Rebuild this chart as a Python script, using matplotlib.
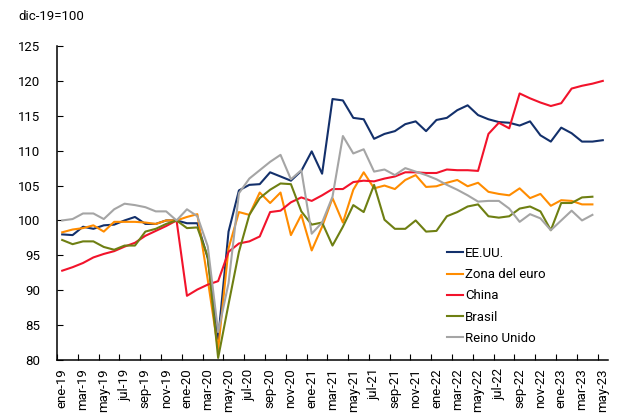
import numpy as np
import matplotlib
matplotlib.use("Agg")
import matplotlib.pyplot as plt

plt.rcParams['font.family'] = ['Roboto', 'DejaVu Sans']

nan = np.nan

meses = ['ene', 'feb', 'mar', 'abr', 'may', 'jun', 'jul', 'ago', 'sep', 'oct', 'nov', 'dic']
fechas = [m + '-' + str(a) for a in range(19, 24) for m in meses][:53]

eeuu = [98.0, 97.9, 99.1, 98.8, 99.3, 99.4, 100.0, 100.5, 99.5, 99.5, 100.0, 100.0,
        99.6, 99.6, 94.6, 83.0, 98.4, 104.3, 105.1, 105.2, 106.9, 106.3, 105.7, 107.1,
        109.9, 106.7, 117.4, 117.2, 114.7, 114.5, 111.7, 112.4, 112.8, 113.8, 114.2, 112.8,
        114.4, 114.7, 115.8, 116.5, 115.1, 114.5, 114.1, 114.0, 113.6, 114.2, 112.2, 111.3,
        113.3, 112.5, 111.3, 111.3, 111.5]

euro = [98.3, 98.7, 98.9, 99.3, 98.4, 99.8, 99.8, 99.8, 99.7, 99.5, 100.0, 100.0,
        100.5, 100.9, 91.5, 81.5, 96.0, 101.2, 100.8, 104.0, 102.5, 104.0, 97.9, 100.8,
        95.7, 99.1, 103.2, 99.7, 104.4, 106.9, 104.6, 105.0, 104.5, 105.8, 106.5, 104.8,
        104.9, 105.4, 105.8, 104.9, 105.4, 104.1, 103.8, 103.6, 104.6, 103.2, 103.8, 102.1,
        102.9, 102.8, 102.3, 102.3, nan]

china = [92.8, 93.3, 93.9, 94.7, 95.2, 95.6, 96.25, 96.8, 97.8, 98.5, 99.2, 100.0,
         89.2, 90.1, 90.8, 91.3, 95.5, 96.7, 97.0, 97.7, 101.2, 101.4, 102.6, 103.3,
         102.8, 103.6, 104.5, 104.5, 105.5, 105.7, 105.6, 106.0, 106.3, 106.9, 106.9, 106.8,
         106.8, 107.3, 107.2, 107.2, 107.1, 112.4, 114.0, 113.2, 118.2, 117.5, 116.9, 116.4,
         116.8, 118.9, 119.3, 119.6, 120.0]

brasil = [97.2, 96.6, 97.0, 97.0, 96.2, 95.8, 96.4, 96.4, 98.4, 98.8, 99.5, 100.0,
          98.9, 99.0, 94.8, 80.3, 88.0, 95.5, 100.8, 103.2, 104.4, 105.3, 105.2, 101.3,
          99.4, 99.7, 96.4, 99.1, 102.2, 101.2, 105.1, 100.1, 98.8, 98.8, 100.0, 98.4,
          98.5, 100.6, 101.2, 102.0, 102.3, 100.6, 100.4, 100.6, 101.7, 102.0, 101.3, 98.6,
          102.5, 102.5, 103.3, 103.4, nan]

reino_unido = [100.0, 100.2, 101.0, 101.0, 100.2, 101.6, 102.4, 102.2, 101.9, 101.3, 101.3, 100.0,
               101.6, 100.6, 96.3, 84.0, 91.0, 103.9, 106.0, 107.2, 108.4, 109.4, 105.9, 107.2,
               98.1, 99.7, 103.4, 112.1, 109.6, 110.2, 107.0, 107.3, 106.5, 107.5, 107.0, 106.5,
               105.9, 105.1, 104.4, 103.6, 102.7, 102.8, 102.8, 101.7, 99.8, 100.9, 100.3, 98.6,
               100.0, 101.4, 100.0, 100.8, nan]

series = [('EE.UU.', eeuu, '#13306B'),
          ('Zona del euro', euro, '#FF8C00'),
          ('China', china, '#F2132B'),
          ('Brasil', brasil, '#6E7F12'),
          ('Reino Unido', reino_unido, '#A5A5A5')]

fig = plt.figure(figsize=(6.17, 4.19), dpi=100)
ax = fig.add_axes([57 / 617, 1 - 360 / 419, (608 - 57) / 617, (360 - 46) / 419])

x = np.arange(len(fechas))
for nombre, vals, color in series:
    ax.plot(x, vals, color=color, lw=1.5, label=nombre)

ax.set_xlim(-0.5, len(fechas) - 0.5)
ax.set_ylim(80, 125)
ax.set_yticks(np.arange(80, 126, 5))

# ticks between categories, labels centred on every other month
ax.set_xticks(np.arange(-0.5, len(fechas), 2))
ax.set_xticklabels([])
ax.set_xticks(x[::2], minor=True)
ax.set_xticklabels(fechas[::2], minor=True, rotation=90)
ax.tick_params(axis='x', which='major', direction='in', length=4, width=0.8)
ax.tick_params(axis='x', which='minor', length=0, pad=6, labelsize=9.5)
ax.tick_params(axis='y', direction='in', length=4, width=0.8, pad=12, labelsize=9.5)

for s in ['top', 'right']:
    ax.spines[s].set_visible(False)
for s in ['left', 'bottom']:
    ax.spines[s].set_linewidth(1.1)

fig.text(18 / 617, 1 - 17 / 419, 'dic-19=100', fontsize=9.5, va='center', ha='left')

ax.legend(loc='upper left', bbox_to_anchor=(447 / 617, 1 - 247 / 419),
          bbox_transform=fig.transFigure, frameon=False, fontsize=9.5,
          handlelength=1.2, handletextpad=0.15, labelspacing=0.62,
          borderpad=0, borderaxespad=0)

fig.savefig('out.png', dpi=100)
